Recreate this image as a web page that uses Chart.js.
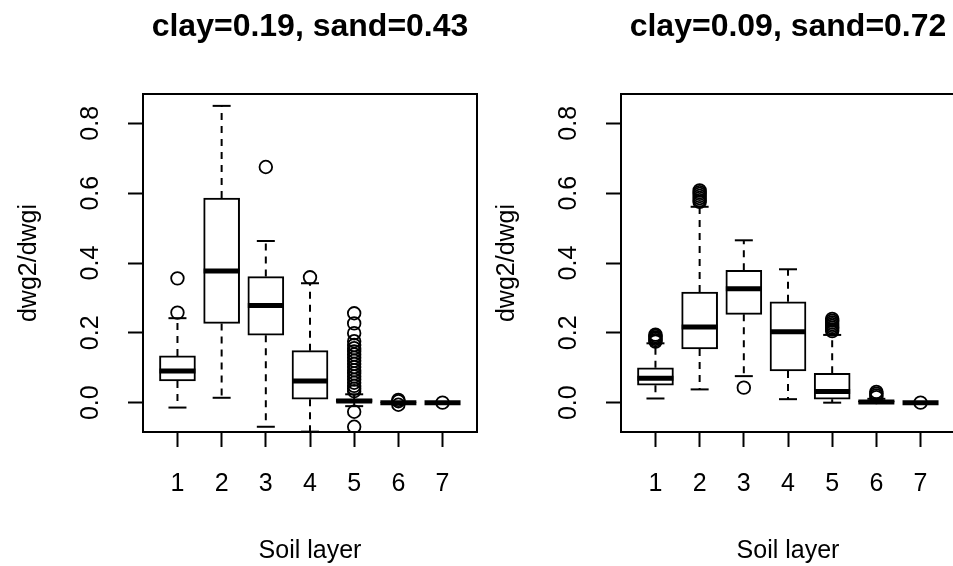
<!DOCTYPE html>
<html>
<head>
<meta charset="utf-8">
<script src="https://cdn.jsdelivr.net/npm/chart.js@4.4.1/dist/chart.umd.min.js"></script>
<style>
  html, body { margin: 0; padding: 0; background: #fff; width: 953px; height: 566px; overflow: hidden; position: relative; }
  canvas { position: absolute; top: 0; }
</style>
</head>
<body>
<canvas id="panelA" width="500" height="566" style="left:0px"></canvas>
<canvas id="panelB" width="500" height="566" style="left:478px"></canvas>
<script>
// soil layers on the x axis, tick values on y
const layers = [1, 2, 3, 4, 5, 6, 7];
const yTicks = [0.0, 0.2, 0.4, 0.6, 0.8];

// panel A: clay=0.19, sand=0.43
const titleA = 'clay=0.19, sand=0.43';
const lowA  = [-0.014, 0.014, -0.069, -0.083, -0.010, -0.002, 0.0];
const q1A   = [0.062, 0.227, 0.193, 0.010, 0.000, 0.000, 0.0];
const medA  = [0.091, 0.377, 0.278, 0.062, 0.005, 0.000, 0.0];
const q3A   = [0.134, 0.586, 0.361, 0.149, 0.010, 0.001, 0.0];
const highA = [0.242, 0.850, 0.463, 0.342, 0.024, 0.002, 0.0];
const outA  = [
  [0.258, 0.356],
  [],
  [0.675],
  [0.359],
  [0.256, 0.227, 0.199, 0.176, 0.165, 0.156, 0.147, 0.138, 0.129, 0.120, 0.111, 0.102,
   0.093, 0.084, 0.075, 0.066, 0.057, 0.048, 0.040, 0.033, -0.026, -0.069],
  [0.008, 0.004, -0.006],
  [0.0]
];

// panel B: clay=0.09, sand=0.72
const titleB = 'clay=0.09, sand=0.72';
const lowB  = [0.012, 0.038, 0.076, 0.010, 0.000, 0.000, 0.0];
const q1B   = [0.050, 0.154, 0.253, 0.091, 0.010, 0.000, 0.0];
const medB  = [0.070, 0.217, 0.326, 0.203, 0.032, 0.002, 0.0];
const q3B   = [0.100, 0.317, 0.379, 0.289, 0.084, 0.005, 0.0];
const highB = [0.170, 0.561, 0.465, 0.382, 0.194, 0.011, 0.0];
const outB  = [
  [0.175, 0.179, 0.183, 0.187, 0.191, 0.195],
  [0.575, 0.580, 0.586, 0.592, 0.598, 0.603, 0.608],
  [0.043],
  [],
  [0.205, 0.210, 0.215, 0.220, 0.225, 0.230, 0.235, 0.240],
  [0.016, 0.021, 0.026, 0.031],
  [0.0]
];

Chart.defaults.font.family = "'Liberation Sans', Arial, Helvetica, sans-serif";
Chart.defaults.color = '#000';

// R style box round the plot region
const framePlugin = {
  id: 'frame',
  afterDatasetsDraw(chart) {
    const { ctx, chartArea: a } = chart;
    ctx.save();
    ctx.strokeStyle = '#000';
    ctx.lineWidth = 2;
    ctx.strokeRect(a.left, a.top, a.right - a.left, a.bottom - a.top);
    ctx.restore();
  }
};

function makeBoxplot(canvasId, title, low, q1, med, q3, high, outliers) {
  const boxes = layers.map((l, i) => ({ x: l, y: [q1[i], q3[i]] }));
  const whiskers = [];
  const caps = [];
  layers.forEach((l, i) => {
    whiskers.push({ x: l, y: q3[i] }, { x: l, y: high[i] }, { x: l, y: null });
    whiskers.push({ x: l, y: q1[i] }, { x: l, y: low[i] }, { x: l, y: null });
    caps.push({ x: l, y: low[i] }, { x: l, y: high[i] });
  });
  const medians = layers.map((l, i) => ({ x: l, y: med[i] }));
  const outs = [];
  layers.forEach((l, i) => outliers[i].forEach(v => outs.push({ x: l, y: v })));

  const axisGrid = { display: true, offset: false, drawOnChartArea: false, drawTicks: true,
                     tickLength: 15, tickWidth: 2, color: '#000' };

  return new Chart(document.getElementById(canvasId), {
    type: 'bar',
    data: {
      datasets: [
        { type: 'line', data: whiskers, borderColor: '#000', borderWidth: 2, borderDash: [7, 6],
          pointRadius: 0, spanGaps: false, order: 4 },
        { type: 'bar', data: boxes, backgroundColor: '#fff', borderColor: '#000', borderWidth: 2,
          borderSkipped: false, barThickness: 36, order: 3 },
        { type: 'scatter', data: caps, pointStyle: 'line', pointRadius: 9, borderColor: '#000',
          borderWidth: 2, order: 2 },
        { type: 'scatter', data: medians, pointStyle: 'line', pointRadius: 18, borderColor: '#000',
          borderWidth: 5, order: 1 },
        { type: 'scatter', data: outs, pointStyle: 'circle', pointRadius: 6.3, borderColor: '#000',
          backgroundColor: 'rgba(0,0,0,0)', borderWidth: 1.8, order: 0 }
      ]
    },
    options: {
      responsive: false,
      devicePixelRatio: 1,
      animation: false,
      events: [],
      layout: { padding: { left: 0, right: 19, top: 0, bottom: 0 } },
      plugins: {
        legend: { display: false },
        tooltip: { enabled: false },
        title: { display: true, text: title, fullSize: false, color: '#000',
                 font: { size: 32, weight: 'bold' }, padding: { top: 7.8, bottom: 47.8 } }
      },
      scales: {
        x: {
          type: 'linear', min: 0.22, max: 7.78, offset: false,
          afterBuildTicks: s => { s.ticks = layers.map(v => ({ value: v })); },
          afterFit: s => { s.height = 134; },
          grid: axisGrid,
          border: { display: false },
          ticks: { font: { size: 25 }, padding: 22.6, maxRotation: 0, autoSkip: false,
                   callback: v => String(v) },
          title: { display: true, text: 'Soil layer', font: { size: 25 }, padding: { top: 0, bottom: 0 } }
        },
        y: {
          min: -0.084, max: 0.884,
          afterBuildTicks: s => { s.ticks = yTicks.map(v => ({ value: v })); },
          afterFit: s => { s.width = 143; },
          grid: axisGrid,
          border: { display: false },
          ticks: { font: { size: 25 }, padding: 19.6, minRotation: 90, maxRotation: 90,
                   crossAlign: 'center', callback: v => v.toFixed(1) },
          title: { display: true, text: 'dwg2/dwgi', font: { size: 25 }, padding: { top: 14, bottom: 0 } }
        }
      }
    },
    plugins: [framePlugin]
  });
}

makeBoxplot('panelA', titleA, lowA, q1A, medA, q3A, highA, outA);
makeBoxplot('panelB', titleB, lowB, q1B, medB, q3B, highB, outB);
</script>
</body>
</html>
